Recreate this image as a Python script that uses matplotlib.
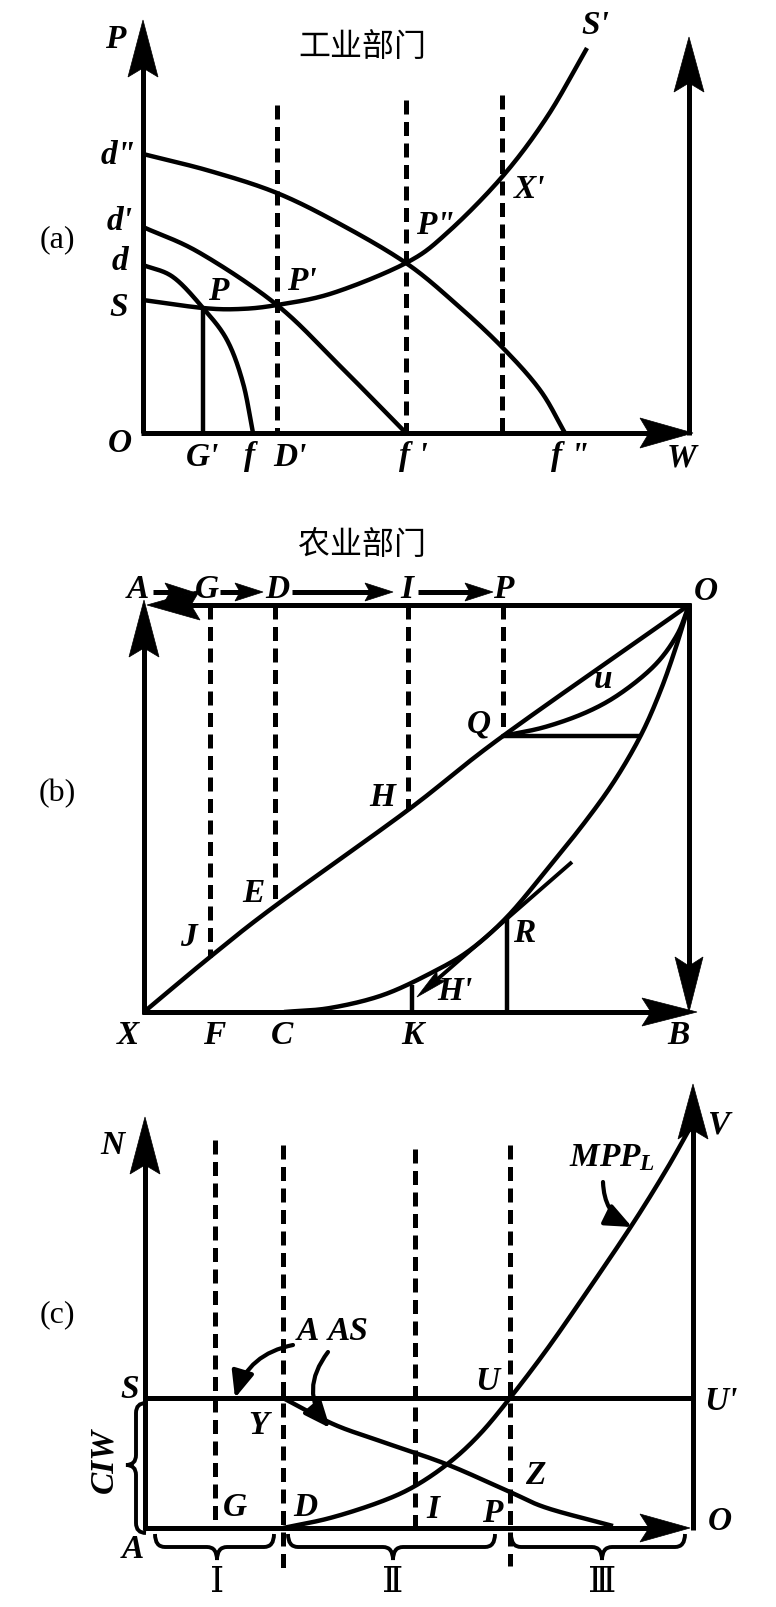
import numpy as np
import matplotlib.pyplot as plt
from matplotlib.patches import Polygon, FancyArrowPatch, PathPatch
from matplotlib.path import Path

plt.rcParams['mathtext.fontset'] = 'custom'
plt.rcParams['mathtext.it'] = 'Liberation Serif:italic:bold'
plt.rcParams['mathtext.rm'] = 'Liberation Serif'

# ---------------- data (picture coordinates, y grows downward) ----------------
# panel (a)  工业部门
a_O = (143, 433)
a_P_tip = 20
a_W_tip = 693
a_right_x = 689
a_right_tip = 37
a_dash_x = [277, 406, 502]
a_dash_top = [105, 100, 95]
d_x = [143, 173, 203, 227, 243, 253]
d_y = [265, 277, 308, 340, 383, 433]
d1_x = [143, 200, 277, 340, 406]
d1_y = [227, 253, 305, 366, 433]
d2_x = [143, 210, 277, 340, 406, 455, 502, 540, 565]
d2_y = [154, 171, 193, 224, 263, 303, 347, 390, 433]
s_x = [143, 203, 240, 277, 333, 406, 447, 502, 547, 587]
s_y = [300, 308, 309, 305, 293, 263, 233, 177, 117, 48]
a_G_x, a_G_y = 203, 308

a_labels = ['P', 'd"', "d'", 'd', 'S', 'O', 'P', "P'", 'P"', "X'", "S'",
            "G'", 'f', "D'", "f '", 'f "', 'W']
a_lab_x = [115, 118, 120, 120, 119, 120, 218, 302, 435, 530, 595,
           203, 250, 290, 413, 570, 682]
a_lab_y = [40, 155, 222, 262, 307, 443, 291, 282, 226, 189, 25,
           457, 457, 457, 457, 457, 458]

# panel (b)  农业部门
b_left, b_right, b_top, b_bottom = 144, 689, 605, 1012
b_up_tip = 600
b_dash_x = [210, 275, 408, 503]
xo_x = [144, 210, 275, 408, 503, 689]
xo_y = [1012, 957, 906, 810, 736, 605]
tpl_x = [284, 330, 383, 433, 470, 507, 545, 585, 615, 641, 660, 675, 689]
tpl_y = [1012, 1008, 995, 972, 950, 917, 872, 822, 780, 735, 692, 650, 605]
u_x = [503, 545, 587, 621, 655, 677, 689]
u_y = [736, 727, 712, 693, 665, 635, 605]
tan_start = (572, 862)
tan_end = (417, 997)
R_x, R_y = 507, 917
K_x, K_y = 412, 985
Q_line_end = 641

top_names = ['A', 'G', 'D', 'I', 'P']
top_x = [138, 207, 277, 407, 503]
top_y = 590
top_arrow_start = [153, 220, 292, 418]
top_arrow_end = [193, 263, 393, 493]

b_labels = ['O', 'Q', 'H', 'E', 'J', 'R', "H'", 'u', 'X', 'F', 'C', 'K', 'B']
b_lab_x = [706, 479, 382, 253, 188, 524, 455, 603, 128, 214, 282, 412, 678]
b_lab_y = [592, 724, 797, 893, 937, 933, 992, 679, 1035, 1035, 1035, 1035, 1035]

# panel (c)
c_left, c_right, c_S, c_bottom = 145, 693, 1398, 1528
c_N_tip, c_V_tip, c_O_tip = 1117, 1084, 690
c_dash_x = [215, 283, 415, 510]
c_dash_top = [1140, 1145, 1149, 1145]
c_dash_bot = [1528, 1568, 1528, 1566]
mpp_x = [283, 330, 380, 415, 450, 480, 510, 545, 580, 630, 665, 690]
mpp_y = [1528, 1518, 1502, 1486, 1462, 1434, 1398, 1352, 1302, 1228, 1172, 1128]
aas_x = [283, 333, 380, 446, 510, 547, 613]
aas_y = [1398, 1424, 1441, 1464, 1492, 1508, 1526]

c_labels = ['N', 'S', 'A', 'G', 'D', 'Y', 'U', "U'", 'V', 'O', 'Z', 'I', 'P',
            'A', 'AS']
c_lab_x = [112, 130, 133, 235, 305, 258, 487, 721, 718, 720, 535, 433, 492,
           308, 348]
c_lab_y = [1146, 1390, 1550, 1508, 1508, 1425, 1381, 1402, 1125, 1522, 1475,
           1510, 1514, 1332, 1332]

# pointer arrows (start, end, bend)
ptr_start = [(293, 1345), (328, 1352), (603, 1182)]
ptr_end = [(235, 1398), (330, 1428), (632, 1227)]
ptr_rad = [0.3, 0.4, 0.3]

brace_spans = [(155, 274, 217), (288, 495, 393), (511, 685, 602)]
brace_top = 1534
roman = ['Ⅰ', 'Ⅱ', 'Ⅲ']
roman_y = 1582

# ---------------- drawing ----------------
fig = plt.figure(figsize=(7.76, 16.07), dpi=100)
ax = fig.add_axes([0, 0, 1, 1])
ax.set_xlim(0, 776)
ax.set_ylim(1607, 0)
ax.axis('off')

LW = 3.6
CW = 3.2
FS = 24


def smooth(xs, ys, n=40):
    # Catmull-Rom through the read points
    p = np.column_stack([xs, ys]).astype(float)
    p = np.vstack([2 * p[0] - p[1], p, 2 * p[-1] - p[-2]])
    out = []
    t = np.linspace(0, 1, n)[:, None]
    for i in range(1, len(p) - 2):
        p0, p1, p2, p3 = p[i - 1], p[i], p[i + 1], p[i + 2]
        seg = 0.5 * ((2 * p1) + (-p0 + p2) * t + (2 * p0 - 5 * p1 + 4 * p2 - p3) * t ** 2
                     + (-p0 + 3 * p1 - 3 * p2 + p3) * t ** 3)
        out.append(seg)
    out = np.vstack(out)
    return out[:, 0], out[:, 1]


def curve(xs, ys, lw=CW):
    sx, sy = smooth(xs, ys)
    ax.plot(sx, sy, color='k', lw=lw, solid_capstyle='butt', solid_joinstyle='round')


def line(x0, y0, x1, y1, lw=LW, **kw):
    ax.plot([x0, x1], [y0, y1], color='k', lw=lw, solid_capstyle='butt', **kw)


def dashed(x, y0, y1):
    ax.plot([x, x], [y0, y1], color='k', lw=3.6, linestyle=(0, (2.8, 1.5)),
            dash_capstyle='butt')


def head(tip, d, L=56, W=30, notch=9):
    d = np.array(d, float)
    d /= np.hypot(*d)
    p = np.array([-d[1], d[0]])
    tip = np.array(tip, float)
    pts = [tip, tip - L * d + W / 2 * p, tip - (L - notch) * d, tip - L * d - W / 2 * p]
    ax.add_patch(Polygon(pts, closed=True, fc='k', ec='k', lw=0.5, zorder=5))


def lab(s, x, y, size=FS, style='italic', weight='bold', **kw):
    ax.text(x, y, s, fontsize=size, style=style, weight=weight,
            family=['Liberation Serif', 'DejaVu Serif'], ha='center', va='center', **kw)


def brace_h(x0, x1, xm, y0, h=26, r=10):
    ym = y0 + h / 2
    verts = [(x0, y0), (x0, ym), (x0 + r, ym), (xm - r, ym), (xm, ym), (xm, y0 + h),
             (xm, ym), (xm + r, ym), (x1 - r, ym), (x1, ym), (x1, y0)]
    codes = [Path.MOVETO, Path.CURVE3, Path.CURVE3, Path.LINETO, Path.CURVE3, Path.CURVE3,
             Path.CURVE3, Path.CURVE3, Path.LINETO, Path.CURVE3, Path.CURVE3]
    ax.add_patch(PathPatch(Path(verts, codes), fc='none', ec='k', lw=2.8))


def brace_v(y0, y1, ym, x0, w=20, r=10):
    xm = x0 - w / 2
    verts = [(x0, y0), (xm, y0), (xm, y0 + r), (xm, ym - r), (xm, ym), (x0 - w, ym),
             (xm, ym), (xm, ym + r), (xm, y1 - r), (xm, y1), (x0, y1)]
    codes = [Path.MOVETO, Path.CURVE3, Path.CURVE3, Path.LINETO, Path.CURVE3, Path.CURVE3,
             Path.CURVE3, Path.CURVE3, Path.LINETO, Path.CURVE3, Path.CURVE3]
    ax.add_patch(PathPatch(Path(verts, codes), fc='none', ec='k', lw=2.8))


# ----- panel (a) -----
ox, oy = a_O
line(ox, oy, ox, a_P_tip + 40)
head((ox, a_P_tip), (0, -1), L=57, W=30)
line(ox - 2, oy, a_W_tip - 40, oy)
head((a_W_tip, oy), (1, 0), L=53, W=30)
line(a_right_x, oy + 2, a_right_x, a_right_tip + 40)
head((a_right_x, a_right_tip), (0, -1), L=55, W=30)
for x, t in zip(a_dash_x, a_dash_top):
    dashed(x, t, oy)
curve(d_x, d_y)
curve(d1_x, d1_y)
curve(d2_x, d2_y)
curve(s_x, s_y)
line(a_G_x, a_G_y, a_G_x, oy, lw=CW)
for s, x, y in zip(a_labels, a_lab_x, a_lab_y):
    lab(s, x, y)
ax.text(362, 47, '工业部门', fontsize=23, family=['Noto Sans CJK SC'], ha='center', va='center')
lab('(a)', 57, 240, size=23, style='normal', weight='normal')

# ----- panel (b) -----
line(b_left, b_bottom + 2, b_left, b_up_tip + 40)
head((b_left, b_up_tip), (0, -1), L=57, W=30)
line(b_left + 30, b_top, b_right + 2, b_top)
head((b_left + 3, b_top), (-1, 0), L=53, W=30)
line(b_left - 2, b_bottom, 697 - 40, b_bottom)
head((697, b_bottom), (1, 0), L=55, W=28)
line(b_right, b_top - 2, b_right, b_bottom - 40)
head((b_right, b_bottom), (0, 1), L=55, W=28)
for x in b_dash_x:
    dashed(x, b_top, np.interp(x, xo_x, xo_y))
curve(xo_x, xo_y)
curve(tpl_x, tpl_y)
curve(u_x, u_y)
line(b_dash_x[-1], xo_y[4], Q_line_end, xo_y[4], lw=CW)
line(R_x, R_y, R_x, b_bottom, lw=CW)
line(K_x, K_y, K_x, b_bottom, lw=CW)
tdir = np.array(tan_end, float) - np.array(tan_start, float)
tdir /= np.hypot(*tdir)
line(tan_start[0], tan_start[1], tan_end[0] - tdir[0] * 15, tan_end[1] - tdir[1] * 15, lw=2.8)
head(tan_end, tdir, L=32, W=13, notch=5)
for i in range(len(top_arrow_start)):
    line(top_arrow_start[i], top_y + 2, top_arrow_end[i] - 15, top_y + 2)
    head((top_arrow_end[i], top_y + 2), (1, 0), L=28, W=18, notch=5)
for s, x in zip(top_names, top_x):
    lab(s, x, top_y)
for s, x, y in zip(b_labels, b_lab_x, b_lab_y):
    lab(s, x, y)
ax.text(362, 545, '农业部门', fontsize=23, family=['Noto Sans CJK SC'], ha='center', va='center')
lab('(b)', 57, 794, size=23, style='normal', weight='normal')

# ----- panel (c) -----
line(c_left, c_bottom + 2, c_left, c_N_tip + 40)
head((c_left, c_N_tip), (0, -1), L=57, W=30)
line(c_right, c_bottom + 2, c_right, c_V_tip + 40)
head((c_right, c_V_tip), (0, -1), L=55, W=30)
line(c_left - 2, c_bottom, c_O_tip - 40, c_bottom)
head((c_O_tip, c_bottom), (1, 0), L=50, W=28)
line(c_left, c_S, c_right, c_S)
for x, t, b in zip(c_dash_x, c_dash_top, c_dash_bot):
    dashed(x, t, b)
curve(mpp_x, mpp_y)
curve(aas_x, aas_y)
for st, en, rd in zip(ptr_start, ptr_end, ptr_rad):
    ax.add_patch(FancyArrowPatch(st, en, connectionstyle=f'arc3,rad={rd}',
                                 arrowstyle='-|>,head_length=0.8,head_width=0.34',
                                 mutation_scale=20, color='k', lw=3.0, shrinkA=0, shrinkB=0))
for (x0, x1, xm) in brace_spans:
    brace_h(x0, x1, xm, brace_top)
brace_v(1403, 1533, 1465, 146)
for s, x, y in zip(c_labels, c_lab_x, c_lab_y):
    lab(s, x, y)
ax.text(612, 1157, '$MPP_L$', fontsize=FS, ha='center', va='center')
lab('CIW', 104, 1461, rotation=90)
for s, (x0, x1, xm) in zip(roman, brace_spans):
    ax.text(xm, roman_y, s, fontsize=26, family=['DejaVu Serif', 'Noto Sans CJK SC'],
            ha='center', va='center')
lab('(c)', 57, 1315, size=23, style='normal', weight='normal')

fig.savefig('out.png', dpi=100)
